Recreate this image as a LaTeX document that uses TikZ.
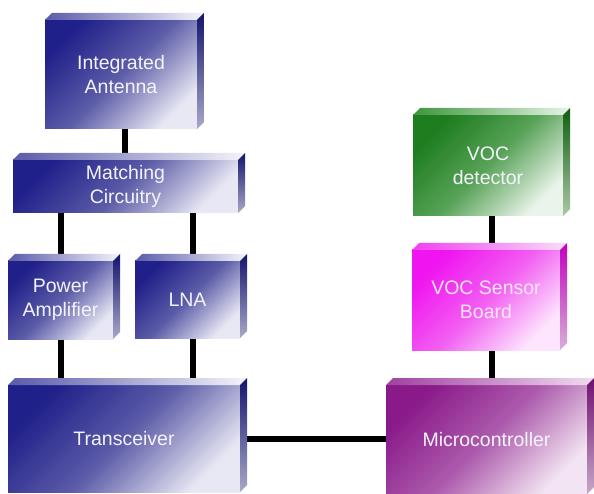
\documentclass[tikz,border=0pt]{standalone}
\usepackage{fontspec}
\setmainfont{Liberation Sans}
\usetikzlibrary{calc}
\definecolor{bDark}{HTML}{20208A}
\definecolor{bMid}{HTML}{5C5CA8}
\definecolor{bLight}{HTML}{E8E8F4}
\definecolor{bSideT}{HTML}{14146E}
\definecolor{bSideB}{HTML}{A8A8C8}
\definecolor{bTopL}{HTML}{5A5AAA}
\definecolor{bTopR}{HTML}{F4F4FA}
\definecolor{gDark}{HTML}{1E7D1E}
\definecolor{gMid}{HTML}{58A258}
\definecolor{gLight}{HTML}{EAF4EA}
\definecolor{gSideT}{HTML}{0F5F0F}
\definecolor{gSideB}{HTML}{A8C8A8}
\definecolor{gTopL}{HTML}{3C963C}
\definecolor{gTopR}{HTML}{E8F4E8}
\definecolor{mDark}{HTML}{F014F0}
\definecolor{mMid}{HTML}{F25EF2}
\definecolor{mLight}{HTML}{FDE6FD}
\definecolor{mSideT}{HTML}{C000C0}
\definecolor{mSideB}{HTML}{D8B0D8}
\definecolor{mTopL}{HTML}{F040F0}
\definecolor{mTopR}{HTML}{FBDCFB}
\definecolor{pDark}{HTML}{8A1A8A}
\definecolor{pMid}{HTML}{AC5AAC}
\definecolor{pLight}{HTML}{F2E4F2}
\definecolor{pSideT}{HTML}{701070}
\definecolor{pSideB}{HTML}{C8A8C8}
\definecolor{pTopL}{HTML}{A040A0}
\definecolor{pTopR}{HTML}{F0DCF0}
\definecolor{txt}{HTML}{F4F4FC}
\definecolor{txtm}{HTML}{FFE6FF}
\pgfdeclarelayer{bg}
\pgfsetlayers{bg,main}
\tikzset{
  x=1pt, y=-1pt,
  frontbox/.style={inner sep=0pt, outer sep=0pt, align=center, text=txt,
    font=\fontsize{19.5}{24}\selectfont},
  bluefront/.style={top color=bDark, bottom color=bLight, middle color=bMid, shading angle=45},
  blueside/.style={top color=bSideT, bottom color=bSideB},
  bluetop/.style={left color=bTopL, right color=bTopR},
  greenfront/.style={top color=gDark, bottom color=gLight, middle color=gMid, shading angle=45},
  greenside/.style={top color=gSideT, bottom color=gSideB},
  greentop/.style={left color=gTopL, right color=gTopR},
  magfront/.style={top color=mDark, bottom color=mLight, middle color=mMid, shading angle=45, text=txtm},
  magside/.style={top color=mSideT, bottom color=mSideB},
  magtop/.style={left color=mTopL, right color=mTopR},
  purfront/.style={top color=pDark, bottom color=pLight, middle color=pMid, shading angle=45},
  purside/.style={top color=pSideT, bottom color=pSideB},
  purtop/.style={left color=pTopL, right color=pTopR},
  conn/.style={line width=6pt, black},
}
\newcommand\solidbox[9]{%
  \node[frontbox,#6, minimum width={#4-#2}, minimum height={#5-#3}] (#1) at ({(#2+#4)/2},{(#3+#5)/2}) {#9};
  \path[#8] (#1.north west) -- ++(7,-7) -- ([shift={(7,-7)}]#1.north east) -- (#1.north east) -- cycle;
  \path[#7] (#1.north east) -- ++(7,-7) -- ([shift={(7,-7)}]#1.south east) -- (#1.south east) -- cycle;
}
\begin{document}
\begin{tikzpicture}
\useasboundingbox (0,0) rectangle (594,494);
\solidbox{ant}{45}{20}{197}{129}{bluefront}{blueside}{bluetop}{Integrated\\Antenna}
\solidbox{match}{13}{160}{238}{213}{bluefront}{blueside}{bluetop}{Matching\\Circuitry}
\solidbox{pa}{8}{261}{113}{339}{bluefront}{blueside}{bluetop}{Power\\Amplifier}
\solidbox{lna}{135}{261}{240}{338}{bluefront}{blueside}{bluetop}{LNA}
\solidbox{trx}{8}{385}{240}{492}{bluefront}{blueside}{bluetop}{Transceiver}
\solidbox{det}{413}{115}{563}{216}{greenfront}{greenside}{greentop}{VOC\\detector}
\solidbox{board}{412}{250}{560}{350}{magfront}{magside}{magtop}{VOC Sensor\\Board}
\solidbox{mcu}{386}{385}{587}{494}{purfront}{purside}{purtop}{Microcontroller}
\begin{pgfonlayer}{bg}
\draw[conn] ([xshift=4pt]ant.center) -- ([xshift=4pt]ant.center |- match.center);
\draw[conn] (pa.center |- match.center) -- (pa.center);
\draw[conn] ([xshift=5.5pt]lna.center |- match.center) -- ([xshift=5.5pt]lna.center);
\draw[conn] (pa.center) -- (pa.center |- trx.center);
\draw[conn] ([xshift=5.5pt]lna.center) -- ([xshift=5.5pt]lna.center |- trx.center);
\draw[conn] (trx.center) -- (trx.center -| mcu.center);
\draw[conn] ([xshift=4pt]det.center) -- ([xshift=4pt]det.center |- board.center);
\draw[conn] ([xshift=4pt]det.center |- board.center) -- ([xshift=4pt]det.center |- mcu.center);
\end{pgfonlayer}
\end{tikzpicture}
\end{document}
